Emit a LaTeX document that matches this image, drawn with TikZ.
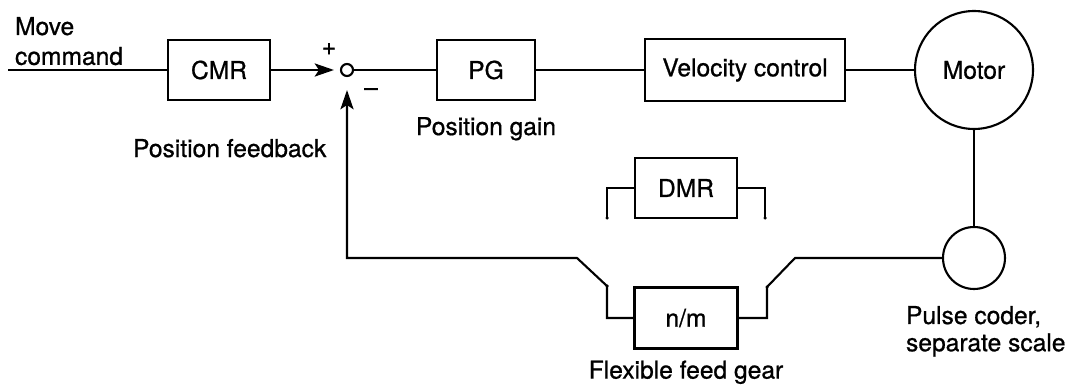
\documentclass[tikz,border=0pt]{standalone}
\usepackage{fontspec}
\setmainfont{TeX Gyre Heros}[FakeBold=0.8]
\usetikzlibrary{positioning,arrows.meta}

\begin{document}
\begin{tikzpicture}[x=0.02cm,y=-0.02cm,line width=1.2pt,
    font=\fontsize{14}{17}\selectfont,
    block/.style={draw,rectangle,inner sep=0pt,minimum height=1.2cm},
    lbl/.style={inner sep=0pt},
    >={Stealth[length=11pt,width=7.5pt,inset=2.5pt]}]
    \useasboundingbox (0,0) rectangle (1069,385);
    % forward path
    \node[block,minimum width=2.04cm] (cmr) at (219,70) {CMR};
    \node[circle,draw,inner sep=0pt,minimum size=0.24cm] (sum) at (347,70) {};
    \node[block,minimum width=1.96cm] (pg) at (486,70) {PG};
    \node[block,minimum width=4cm,minimum height=1.24cm] (vc) at (745,70) {Velocity control};
    \node[circle,draw,inner sep=0pt,minimum size=2.36cm] (motor) at (974,70) {Motor};
    \node[circle,draw,inner sep=0pt,minimum size=1.24cm] (pc) at (974,258) {};
    % feedback path
    \node[block,minimum width=2.04cm] (dmr) at (686,188) {DMR};
    \node[block,minimum width=2.06cm,minimum height=1.22cm] (nm) at (686,318) {n/m};
    % labels
    \node[lbl,anchor=north west,align=left] (move) at (14,16) {Move\\command};
    \node[lbl] (plus) at (329,49) {+};
    \node[lbl] (minus) at (371,92) {--};
    \node[lbl,anchor=base west] (fbk) at (132,157) {Position feedback};
    \node[lbl,below=0.3cm of pg] (gain) {Position gain};
    \node[lbl,below=0.2cm of nm] (ffg) {Flexible feed gear};
    \node[lbl,anchor=north west,align=left,font=\fontsize{14}{15.5}\selectfont] (pcl) at (905,305) {Pulse coder,\\separate scale};
    \coordinate (in) at (8,70);
    \coordinate (swR) at (795,258);
    \coordinate (tR) at (767,287);
    \coordinate (tL) at (607,286);
    \coordinate (swL) at (577,258);
    \coordinate (fb) at (347,258);
    \coordinate (dL) at (607,218);
    \coordinate (dR) at (765,218);
    \draw (in) -- (cmr.west);
    \draw[->,shorten >=0.12cm] (cmr.east) -- (sum.west);
    \draw (sum.east) -- (pg.west);
    \draw (pg.east) -- (vc.west);
    \draw (vc.east) -- (motor.west);
    \draw (motor.south) -- (pc.north);
    \draw (pc.west) -- (swR) -- (tR) -- (tR |- nm.east) -- (nm.east);
    \draw[->,shorten >=0.26cm] (nm.west) -- (tL |- nm.west) -- (tL) -- (swL) -- (fb) -- (sum.south);
    \draw (dL) -- (dL |- dmr.west) -- (dmr.west);
    \draw (dmr.east) -- (dR |- dmr.east) -- (dR);
    \foreach \p in {tL,tR,dL,dR}
        \fill (\p) circle[radius=0.035cm];
\end{tikzpicture}
\end{document}
